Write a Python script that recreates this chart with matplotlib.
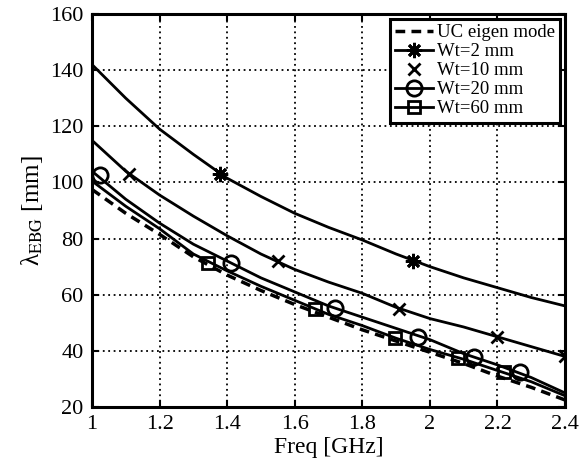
import numpy as np
import matplotlib
matplotlib.use("Agg")
import matplotlib.pyplot as plt
from matplotlib.lines import Line2D
from matplotlib.ticker import FormatStrFormatter

plt.rcParams['font.family'] = ['Liberation Serif', 'DejaVu Serif']
plt.rcParams['mathtext.fontset'] = 'stix'

# frequency samples of the curves [GHz]
freq = [1.0, 1.1, 1.2, 1.3, 1.4, 1.5, 1.6, 1.7, 1.8, 1.9, 2.0, 2.1, 2.2, 2.3, 2.4]

# lambda_EBG curves [mm]
uc_eigen = [97.5, 89, 81.5, 73.5, 67, 61.5, 56.5, 52, 47.5, 43.5, 39.5, 35.5, 31, 27, 22.5]
wt2 = [142, 130, 119, 110, 101.5, 95, 89, 84, 79.5, 74.5, 70, 66, 62.5, 59, 56]
wt10 = [115, 104, 95.5, 88, 81, 74.5, 69, 64.5, 60.5, 55.5, 51.5, 48.5, 45, 41.5, 38]
wt20 = [104, 94, 85.5, 78, 72, 66, 61, 56, 52, 48, 44, 39, 35, 30.5, 25]
wt60 = [100.5, 91.5, 83.5, 74.5, 68.5, 63, 58, 53, 49, 44.5, 40.5, 37, 33, 29, 24]

# simulated points (markers)
wt2_pf = [1.38, 1.95]
wt2_pl = [103, 72]
wt10_pf = [1.11, 1.55, 1.91, 2.20, 2.40]
wt10_pl = [103, 72, 55, 45, 38]
wt20_pf = [1.024, 1.41, 1.72, 1.965, 2.13, 2.267]
wt20_pl = [102.6, 71.3, 55.3, 45, 37.8, 32.4]
wt60_pf = [1.343, 1.66, 1.897, 2.083, 2.22]
wt60_pl = [71.3, 55, 44.6, 37.5, 32.5]

fig = plt.figure(figsize=(5.81, 4.71), dpi=100)
ax = fig.add_axes([0.1583, 0.1359, 0.9725 - 0.1583, 0.9703 - 0.1359])

lw = 2.0
dash = (0, (2.8, 1.8))
ax.plot(freq, uc_eigen, color='k', lw=2.5, ls=dash)
ax.plot(freq, wt2, color='k', lw=lw)
ax.plot(freq, wt10, color='k', lw=lw)
ax.plot(freq, wt20, color='k', lw=lw)
ax.plot(freq, wt60, color='k', lw=lw)

ast = (8, 2, 0)
ax.plot(wt2_pf, wt2_pl, ls='none', marker=ast, ms=11, mec='k', mew=2)
ax.plot(wt10_pf, wt10_pl, ls='none', marker='x', ms=9, mec='k', mew=2)
ax.plot(wt20_pf, wt20_pl, ls='none', marker='o', ms=11, mfc='none', mec='k', mew=2)
ax.plot(wt60_pf, wt60_pl, ls='none', marker='s', ms=9, mfc='none', mec='k', mew=2)

ax.set_xlim(1, 2.4)
ax.set_ylim(20, 160)
ax.set_xticks(np.arange(1, 2.41, 0.2))
ax.set_yticks(np.arange(20, 161, 20))
ax.xaxis.set_major_formatter(FormatStrFormatter('%g'))
ax.grid(True, color='k', ls=(0, (1, 2)), lw=1.3)
ax.tick_params(direction='in', top=True, right=True, length=5, width=1.5,
               labelsize=16, pad=6)
for s in ax.spines.values():
    s.set_linewidth(2.2)

ax.set_xlabel('Freq [GHz]', fontsize=17, labelpad=2)
ax.set_ylabel('λ$_{\\mathrm{EBG}}$ [mm]', fontsize=18, labelpad=4)

handles = [
    Line2D([], [], color='k', lw=2.5, ls=dash),
    Line2D([], [], color='k', lw=lw, marker=ast, ms=11, mew=2),
    Line2D([], [], color='k', ls='none', marker='x', ms=9, mew=2),
    Line2D([], [], color='k', lw=lw, marker='o', ms=11, mfc='none', mew=2),
    Line2D([], [], color='k', lw=lw, marker='s', ms=9, mfc='none', mew=2),
]
labels = ['UC eigen mode', 'Wt=2 mm', 'Wt=10 mm', 'Wt=20 mm', 'Wt=60 mm']
leg = ax.legend(handles, labels, loc='upper right', fontsize=13.5, fancybox=False,
                framealpha=1, edgecolor='k', handlelength=2.0, handletextpad=0.2,
                labelspacing=0.1, borderpad=0.3, borderaxespad=0.25)
leg.get_frame().set_linewidth(2.2)

fig.savefig('out.png', dpi=100)
